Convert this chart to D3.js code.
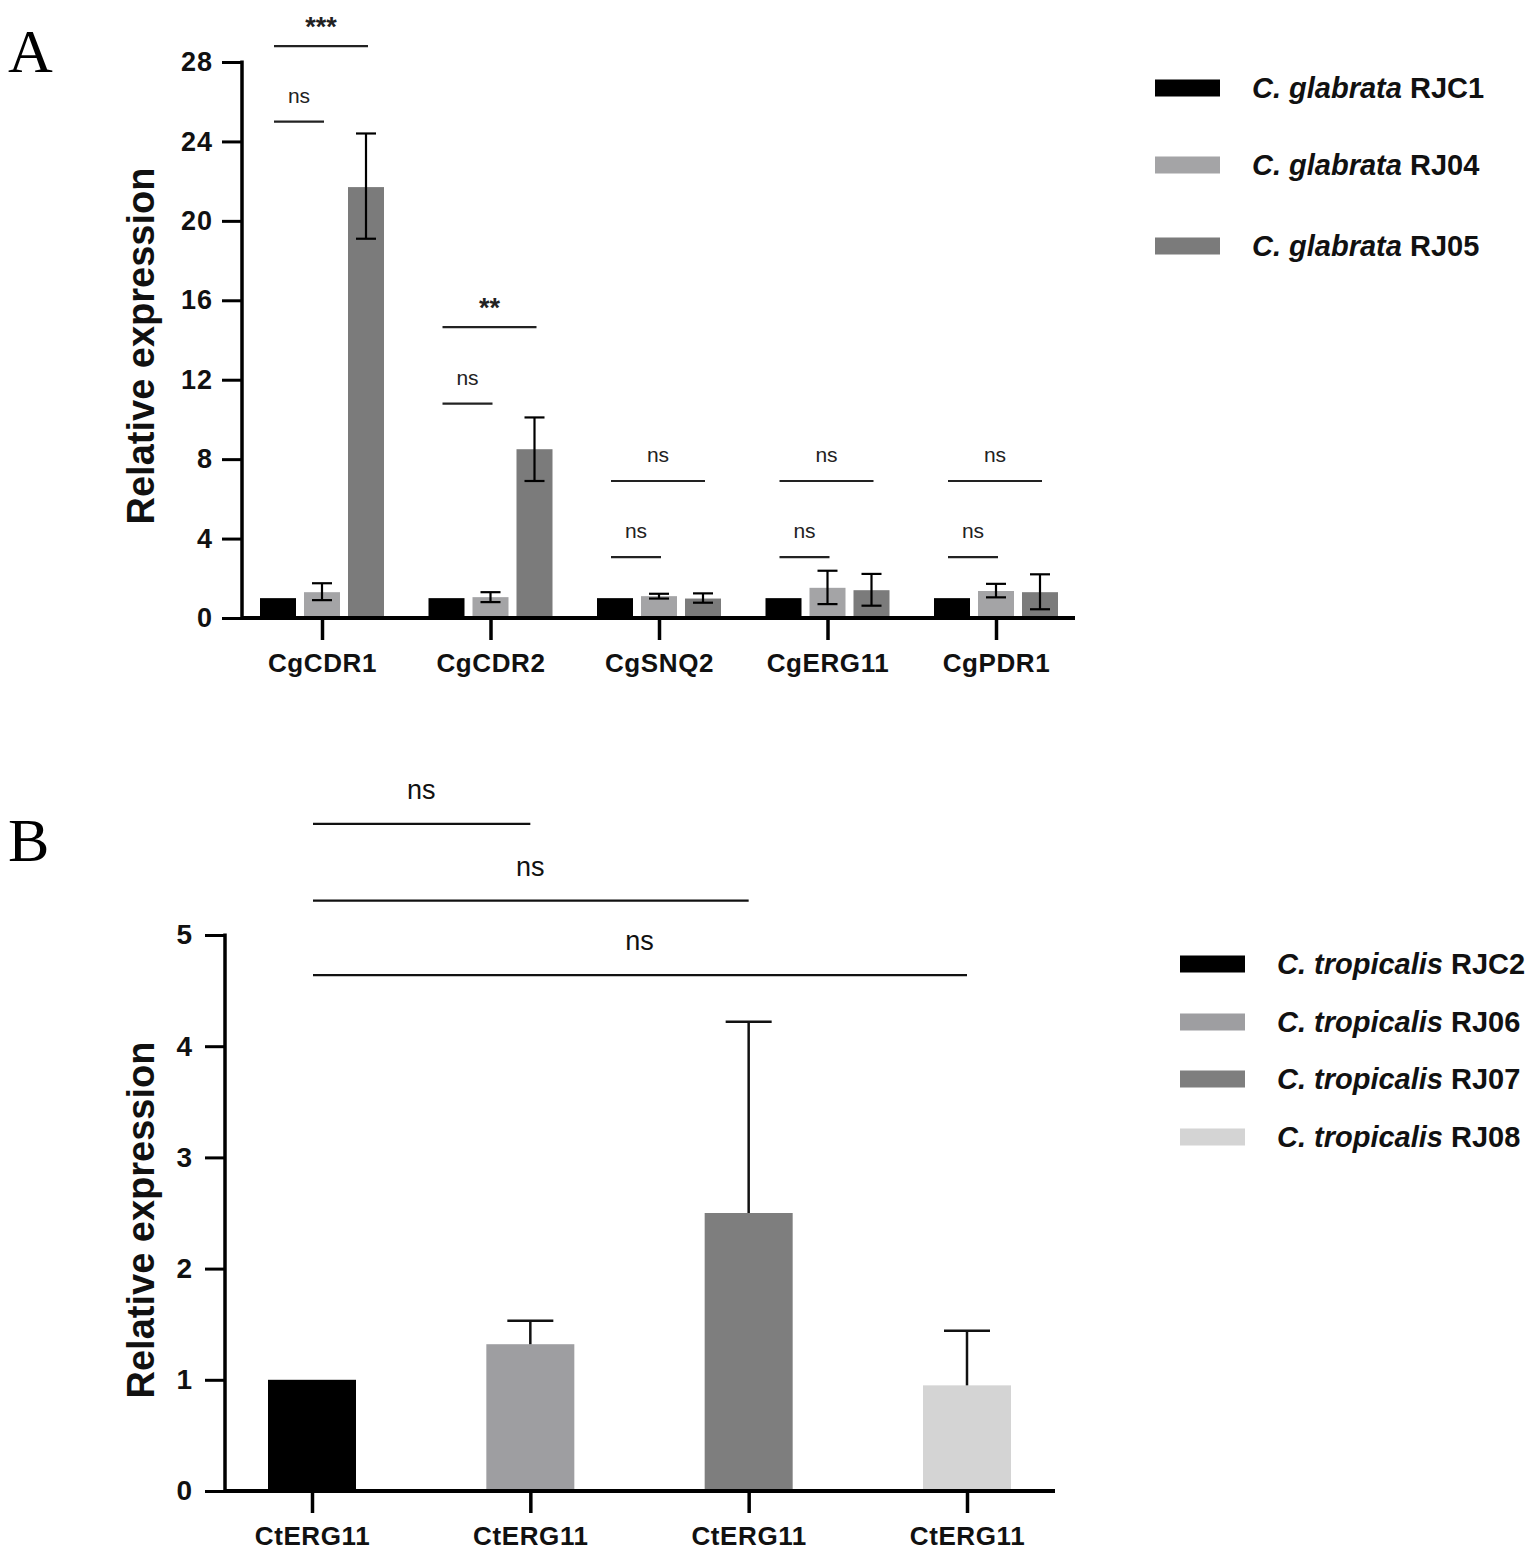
<!DOCTYPE html>
<html>
<head>
<meta charset="utf-8">
<script src="https://cdn.jsdelivr.net/npm/d3@7"></script>
<style>
  body { margin: 0; background: #fff; }
  text { font-family: "Liberation Sans", Arial, sans-serif; }
</style>
</head>
<body>
<script>
// ---- panel A data ----
var genesA = ["CgCDR1", "CgCDR2", "CgSNQ2", "CgERG11", "CgPDR1"]
var strainsA = ["RJC1", "RJ04", "RJ05"]
var colorsA = ["#000000", "#a4a4a6", "#7b7b7b"]
var rjc1 = [1, 1, 1, 1, 1]
var rj04 = [1.3, 1.05, 1.1, 1.52, 1.36]
var rj05 = [21.7, 8.5, 0.98, 1.4, 1.3]
var rj04_lo = [0.9, 0.8, 0.98, 0.7, 1.04]
var rj04_hi = [1.75, 1.3, 1.22, 2.38, 1.72]
var rj05_lo = [19.1, 6.9, 0.77, 0.62, 0.44]
var rj05_hi = [24.4, 10.1, 1.24, 2.22, 2.2]
var ticksA = [0, 4, 8, 12, 16, 20, 24, 28]
// comparisons: gene index, target strain index, bracket height, label
var sigA = [
  [0, 1, 25.0, "ns"], [0, 2, 28.8, "***"],
  [1, 1, 10.8, "ns"], [1, 2, 14.65, "**"],
  [2, 1, 3.07, "ns"], [2, 2, 6.9, "ns"],
  [3, 1, 3.07, "ns"], [3, 2, 6.9, "ns"],
  [4, 1, 3.07, "ns"], [4, 2, 6.9, "ns"]
]

// ---- panel B data ----
var strainsB = ["RJC2", "RJ06", "RJ07", "RJ08"]
var geneB = "CtERG11"
var colorsB = ["#000000", "#9e9ea1", "#7e7e7e", "#d4d4d4"]
var valuesB = [1.0, 1.32, 2.5, 0.95]
var errHiB = [1.0, 1.53, 4.22, 1.44]
var ticksB = [0, 1, 2, 3, 4, 5]
var sigB = [[1, 6.0, "ns"], [2, 5.31, "ns"], [3, 4.64, "ns"]]

var W = 1535, H = 1559
var svg = d3.select("body").append("svg").attr("width", W).attr("height", H)

// ================= PANEL A =================
var gA = svg.append("g").attr("id", "panelA")
var yA = d3.scaleLinear().domain([0, 28]).range([618, 62])
var xA = d3.scalePoint().domain(genesA).range([322, 996])
var offA = d3.scalePoint().domain(strainsA).range([-44, 44])
var bwA = 36

var rowsA = []
genesA.forEach(function(g, i) {
  rowsA.push({g: g, s: "RJC1", c: colorsA[0], v: rjc1[i], lo: null, hi: null})
  rowsA.push({g: g, s: "RJ04", c: colorsA[1], v: rj04[i], lo: rj04_lo[i], hi: rj04_hi[i]})
  rowsA.push({g: g, s: "RJ05", c: colorsA[2], v: rj05[i], lo: rj05_lo[i], hi: rj05_hi[i]})
})

gA.selectAll(".bar").data(rowsA).enter().append("rect").attr("class", "bar")
  .attr("x", function(d) { return xA(d.g) + offA(d.s) - bwA / 2 })
  .attr("width", bwA)
  .attr("y", function(d) { return yA(d.v) })
  .attr("height", function(d) { return yA(0) - yA(d.v) })
  .attr("fill", function(d) { return d.c })

var errA = gA.selectAll(".err").data(rowsA.filter(function(d) { return d.hi != null })).enter()
  .append("g").attr("class", "err").attr("stroke", "#000").attr("stroke-width", 2.2)
errA.append("line")
  .attr("x1", function(d) { return xA(d.g) + offA(d.s) }).attr("x2", function(d) { return xA(d.g) + offA(d.s) })
  .attr("y1", function(d) { return yA(d.lo) }).attr("y2", function(d) { return yA(d.hi) })
errA.append("line")
  .attr("x1", function(d) { return xA(d.g) + offA(d.s) - 10 }).attr("x2", function(d) { return xA(d.g) + offA(d.s) + 10 })
  .attr("y1", function(d) { return yA(d.hi) }).attr("y2", function(d) { return yA(d.hi) })
errA.append("line")
  .attr("x1", function(d) { return xA(d.g) + offA(d.s) - 10 }).attr("x2", function(d) { return xA(d.g) + offA(d.s) + 10 })
  .attr("y1", function(d) { return yA(d.lo) }).attr("y2", function(d) { return yA(d.lo) })

// axes A
var yAxA = gA.append("g").attr("transform", "translate(242,0)")
  .call(d3.axisLeft(yA).tickValues(ticksA).tickSize(20).tickSizeOuter(0).tickPadding(9).tickFormat(d3.format("d")))
yAxA.select(".domain").remove()
yAxA.selectAll(".tick line").attr("stroke-width", 3)
yAxA.selectAll("text").attr("font-size", 27).attr("font-weight", "bold").attr("letter-spacing", 1).attr("fill", "#111")
gA.append("line").attr("x1", 242).attr("x2", 242).attr("y1", yA(28) - 1.5).attr("y2", yA(0) + 1.5)
  .attr("stroke", "#000").attr("stroke-width", 3.5)

var xAxA = gA.append("g").attr("transform", "translate(0,618)")
  .call(d3.axisBottom(xA).tickSize(22).tickSizeOuter(0).tickPadding(14))
xAxA.select(".domain").remove()
xAxA.selectAll(".tick line").attr("stroke-width", 3.5)
xAxA.selectAll("text").attr("font-size", 26).attr("font-weight", "bold").attr("letter-spacing", 0.6).attr("fill", "#111")
gA.append("line").attr("x1", 242).attr("x2", 1075).attr("y1", 618).attr("y2", 618)
  .attr("stroke", "#000").attr("stroke-width", 4)

gA.append("text").attr("transform", "translate(154,346) rotate(-90)")
  .attr("text-anchor", "middle").attr("font-size", 38).attr("font-weight", "bold").attr("fill", "#111")
  .text("Relative expression")

// significance A
var sA = gA.selectAll(".sig").data(sigA).enter().append("g").attr("class", "sig")
sA.append("line")
  .attr("x1", function(d) { return xA(genesA[d[0]]) + offA(strainsA[0]) - 4 })
  .attr("x2", function(d) { return xA(genesA[d[0]]) + offA(strainsA[d[1]]) + 2 })
  .attr("y1", function(d) { return yA(d[2]) }).attr("y2", function(d) { return yA(d[2]) })
  .attr("stroke", "#222").attr("stroke-width", 2.2)
sA.append("text")
  .attr("x", function(d) { return xA(genesA[d[0]]) + (offA(strainsA[0]) + offA(strainsA[d[1]])) / 2 - 1 })
  .attr("y", function(d) { return yA(d[2]) - (d[3] == "ns" ? 19 : 10) })
  .attr("text-anchor", "middle")
  .attr("font-size", function(d) { return d[3] == "ns" ? 21 : 27 })
  .attr("font-weight", function(d) { return d[3] == "ns" ? "normal" : "bold" })
  .attr("fill", "#222")
  .text(function(d) { return d[3] })

// legend A
var legA = gA.selectAll(".leg").data(strainsA).enter().append("g").attr("class", "leg")
  .attr("transform", function(d, i) { return "translate(1155," + [88, 165, 246][i] + ")" })
legA.append("rect").attr("x", 0).attr("y", -8.5).attr("width", 65).attr("height", 17)
  .attr("fill", function(d, i) { return colorsA[i] })
var ltA = legA.append("text").attr("x", 97).attr("y", 10).attr("font-size", 29).attr("font-weight", "bold").attr("fill", "#111")
ltA.append("tspan").attr("font-style", "italic").text("C. glabrata ")
ltA.append("tspan").text(function(d) { return d })

svg.append("text").attr("x", 8).attr("y", 72)
  .style("font-family", "'Liberation Serif', serif").attr("font-size", 62).text("A")

// ================= PANEL B =================
var gB = svg.append("g").attr("id", "panelB")
var yB = d3.scaleLinear().domain([0, 5]).range([1491, 935])
var xB = d3.scalePoint().domain(strainsB).range([312, 967])
var bwB = 88

var rowsB = strainsB.map(function(s, i) { return {s: s, c: colorsB[i], v: valuesB[i], hi: errHiB[i]} })

gB.selectAll(".bar").data(rowsB).enter().append("rect").attr("class", "bar")
  .attr("x", function(d) { return xB(d.s) - bwB / 2 })
  .attr("width", bwB)
  .attr("y", function(d) { return yB(d.v) })
  .attr("height", function(d) { return yB(0) - yB(d.v) })
  .attr("fill", function(d) { return d.c })

var errB = gB.selectAll(".err").data(rowsB.filter(function(d) { return d.hi > d.v })).enter()
  .append("g").attr("class", "err").attr("stroke", "#111").attr("stroke-width", 2.5)
errB.append("line")
  .attr("x1", function(d) { return xB(d.s) }).attr("x2", function(d) { return xB(d.s) })
  .attr("y1", function(d) { return yB(d.v) }).attr("y2", function(d) { return yB(d.hi) })
errB.append("line")
  .attr("x1", function(d) { return xB(d.s) - 23 }).attr("x2", function(d) { return xB(d.s) + 23 })
  .attr("y1", function(d) { return yB(d.hi) }).attr("y2", function(d) { return yB(d.hi) })

var yAxB = gB.append("g").attr("transform", "translate(225,0)")
  .call(d3.axisLeft(yB).tickValues(ticksB).tickSize(20).tickSizeOuter(0).tickPadding(13).tickFormat(d3.format("d")))
yAxB.select(".domain").remove()
yAxB.selectAll(".tick line").attr("stroke-width", 3)
yAxB.selectAll("text").attr("font-size", 28).attr("font-weight", "bold").attr("fill", "#111")
gB.append("line").attr("x1", 225).attr("x2", 225).attr("y1", yB(5) - 1.5).attr("y2", yB(0) + 1.5)
  .attr("stroke", "#000").attr("stroke-width", 3.5)

var xAxB = gB.append("g").attr("transform", "translate(0,1491)")
  .call(d3.axisBottom(xB).tickSize(22).tickSizeOuter(0).tickPadding(14).tickFormat(function() { return geneB }))
xAxB.select(".domain").remove()
xAxB.selectAll(".tick line").attr("stroke-width", 3.5)
xAxB.selectAll("text").attr("font-size", 26).attr("font-weight", "bold").attr("letter-spacing", 0.6).attr("fill", "#111")
gB.append("line").attr("x1", 225).attr("x2", 1055).attr("y1", 1491).attr("y2", 1491)
  .attr("stroke", "#000").attr("stroke-width", 4)

gB.append("text").attr("transform", "translate(154,1220) rotate(-90)")
  .attr("text-anchor", "middle").attr("font-size", 38).attr("font-weight", "bold").attr("fill", "#111")
  .text("Relative expression")

var sB = gB.selectAll(".sig").data(sigB).enter().append("g").attr("class", "sig")
sB.append("line")
  .attr("x1", function(d) { return xB(strainsB[0]) + 1 })
  .attr("x2", function(d) { return xB(strainsB[d[0]]) })
  .attr("y1", function(d) { return yB(d[1]) }).attr("y2", function(d) { return yB(d[1]) })
  .attr("stroke", "#111").attr("stroke-width", 2.2)
sB.append("text")
  .attr("x", function(d) { return (xB(strainsB[0]) + xB(strainsB[d[0]])) / 2 })
  .attr("y", function(d) { return yB(d[1]) - 25 })
  .attr("text-anchor", "middle").attr("font-size", 27).attr("fill", "#111")
  .text(function(d) { return d[2] })

var legB = gB.selectAll(".leg").data(strainsB).enter().append("g").attr("class", "leg")
  .attr("transform", function(d, i) { return "translate(1180," + [964, 1022, 1079, 1137][i] + ")" })
legB.append("rect").attr("x", 0).attr("y", -8.5).attr("width", 65).attr("height", 17)
  .attr("fill", function(d, i) { return colorsB[i] })
var ltB = legB.append("text").attr("x", 97).attr("y", 10).attr("font-size", 29).attr("font-weight", "bold").attr("fill", "#111")
ltB.append("tspan").attr("font-style", "italic").text("C. tropicalis ")
ltB.append("tspan").text(function(d) { return d })

svg.append("text").attr("x", 8).attr("y", 861)
  .style("font-family", "'Liberation Serif', serif").attr("font-size", 62).text("B")
</script>
</body>
</html>
